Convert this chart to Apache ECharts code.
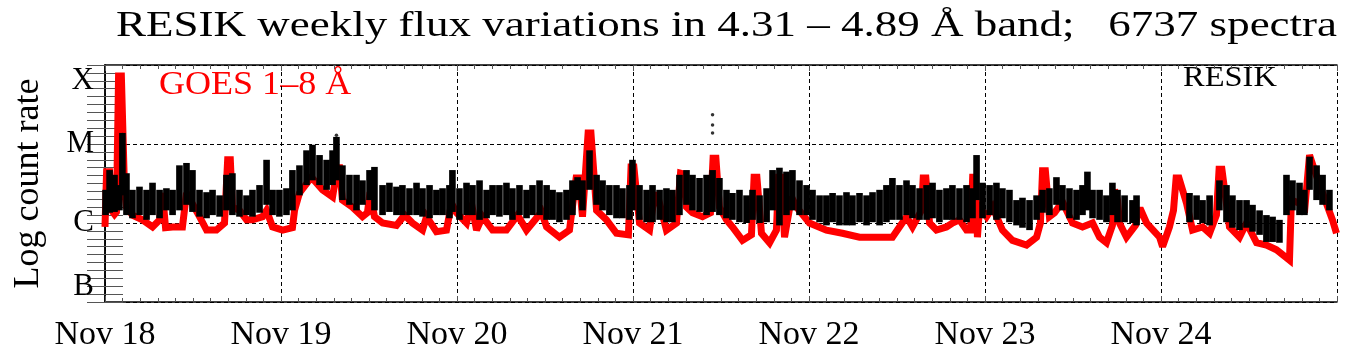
<!DOCTYPE html>
<html>
<head>
<meta charset="utf-8">
<script src="https://cdn.jsdelivr.net/npm/echarts@6/dist/echarts.min.js"></script>
<style>
html, body { margin: 0; padding: 0; background: #fff; }
#main { width: 1356px; height: 355px; }
</style>
</head>
<body>
<div id="main"></div>
<script>
// x: days since Nov 18 00:00 UT, y: log10 of flux (B=-7 ... X=-4)
var dayLabels = ['Nov 18', 'Nov 19', 'Nov 20', 'Nov 21', 'Nov 22', 'Nov 23', 'Nov 24'];
var levelValues = [-7, -6, -5, -4];
var levelLabels = ['B', 'C', 'M', 'X'];

// GOES 1-8 A light curve
var goesT = [0, 0.009, 0.026, 0.037, 0.054, 0.065, 0.077, 0.093, 0.111, 0.122, 0.156, 0.213, 0.270, 0.310, 0.327, 0.344, 0.384, 0.440, 0.463, 0.537,
	0.577, 0.633, 0.679, 0.697, 0.712, 0.724, 0.764, 0.804, 0.838, 0.895, 0.918, 0.952, 1.009, 1.065, 1.077, 1.105, 1.173, 1.236, 1.293, 1.320,
	1.333, 1.349, 1.406, 1.463, 1.491, 1.506, 1.517, 1.531, 1.577, 1.656, 1.702, 1.747, 1.804, 1.827, 1.883, 1.940, 1.969, 1.997, 2.054, 2.082,
	2.111, 2.145, 2.202, 2.281, 2.344, 2.395, 2.480, 2.509, 2.582, 2.639, 2.677, 2.693, 2.713, 2.745, 2.761, 2.793, 2.849, 2.906, 2.974, 2.989,
	3.005, 3.037, 3.094, 3.122, 3.139, 3.190, 3.247, 3.270, 3.287, 3.304, 3.338, 3.395, 3.440, 3.455, 3.471, 3.491, 3.531, 3.565, 3.622, 3.673,
	3.688, 3.704, 3.730, 3.776, 3.815, 3.827, 3.843, 3.861, 3.901, 3.929, 4.003, 4.099, 4.190, 4.287, 4.384, 4.474, 4.554, 4.588, 4.639, 4.649,
	4.664, 4.685, 4.724, 4.781, 4.815, 4.855, 4.895, 4.918, 4.930, 4.945, 4.957, 4.969, 5.009, 5.043, 5.099, 5.156, 5.236, 5.293, 5.315, 5.327,
	5.343, 5.366, 5.395, 5.440, 5.497, 5.554, 5.611, 5.651, 5.690, 5.724, 5.736, 5.753, 5.764, 5.804, 5.855, 5.870, 5.886, 5.918, 5.992, 6.009,
	6.048, 6.071, 6.086, 6.102, 6.145, 6.179, 6.236, 6.276, 6.315, 6.330, 6.346, 6.389, 6.446, 6.486, 6.543, 6.599, 6.656, 6.713, 6.730, 6.741,
	6.787, 6.815, 6.844, 6.872, 6.918, 6.974, 6.997];
var goesV = [-6.05, -5.35, -5.35, -5.84, -5.89, -5.86, -4.14, -4.14, -5.58, -5.80, -5.90, -5.96, -6.05, -5.96, -5.62, -6.06, -6.05, -6.05, -5.62, -5.92,
	-6.09, -6.09, -6.00, -5.20, -5.20, -5.80, -5.84, -5.96, -5.96, -5.92, -5.84, -6.05, -6.09, -6.06, -5.84, -5.62, -5.42, -5.58, -5.67, -5.30,
	-5.30, -5.71, -5.80, -5.92, -5.87, -5.61, -5.61, -5.92, -6.00, -6.03, -5.90, -6.00, -6.09, -5.92, -6.11, -6.09, -5.75, -5.87, -6.00, -5.75,
	-6.09, -5.92, -6.09, -6.09, -5.90, -6.09, -5.86, -6.05, -6.18, -6.09, -5.43, -5.43, -5.92, -4.86, -4.86, -5.84, -5.96, -6.13, -6.15, -5.29,
	-5.29, -6.00, -6.09, -5.65, -5.65, -6.09, -6.00, -5.37, -5.38, -5.80, -5.87, -5.92, -5.87, -5.18, -5.18, -5.80, -5.96, -6.05, -6.22, -6.15,
	-5.42, -5.42, -6.13, -6.25, -6.09, -5.42, -5.42, -6.18, -5.67, -5.80, -6.00, -6.09, -6.13, -6.18, -6.18, -6.18, -5.92, -6.05, -5.84, -5.43,
	-5.43, -6.00, -6.09, -6.05, -6.00, -5.96, -6.09, -6.09, -5.42, -5.42, -6.18, -5.80, -5.92, -5.80, -6.09, -6.22, -6.28, -6.18, -6.00, -5.34,
	-5.34, -5.92, -5.87, -5.73, -6.00, -6.05, -6.00, -6.18, -6.25, -6.03, -5.58, -5.71, -6.00, -6.18, -6.03, -5.84, -5.84, -6.00, -6.18, -6.30,
	-6.05, -5.84, -5.43, -5.43, -5.75, -6.09, -6.05, -6.13, -5.90, -5.32, -5.32, -6.05, -6.18, -6.00, -6.25, -6.28, -6.34, -6.44, -6.47, -5.71,
	-5.75, -5.87, -5.14, -5.33, -5.62, -5.96, -6.13];

// RESIK count rate: spread of the spectra in each short interval (low / high)
var resikT = [0.003, 0.026, 0.054, 0.082, 0.099, 0.122, 0.156, 0.196, 0.236, 0.270, 0.310, 0.349, 0.384, 0.423, 0.463, 0.497, 0.537, 0.577, 0.611, 0.651,
	0.690, 0.724, 0.764, 0.804, 0.838, 0.878, 0.918, 0.952, 0.991, 1.031, 1.065, 1.105, 1.145, 1.179, 1.219, 1.259, 1.293, 1.315, 1.349, 1.389,
	1.429, 1.463, 1.503, 1.531, 1.577, 1.616, 1.656, 1.690, 1.730, 1.770, 1.804, 1.844, 1.883, 1.918, 1.957, 1.974, 2.014, 2.054, 2.088, 2.128,
	2.168, 2.202, 2.241, 2.281, 2.315, 2.355, 2.395, 2.429, 2.469, 2.509, 2.543, 2.582, 2.622, 2.656, 2.685, 2.713, 2.753, 2.793, 2.827, 2.866,
	2.906, 2.940, 2.980, 2.997, 3.037, 3.077, 3.111, 3.151, 3.190, 3.224, 3.264, 3.304, 3.338, 3.378, 3.418, 3.452, 3.491, 3.531, 3.565, 3.605,
	3.645, 3.679, 3.719, 3.759, 3.793, 3.832, 3.872, 3.906, 3.946, 3.986, 4.020, 4.060, 4.099, 4.134, 4.173, 4.213, 4.247, 4.287, 4.327, 4.361,
	4.401, 4.440, 4.474, 4.514, 4.554, 4.588, 4.628, 4.668, 4.702, 4.741, 4.781, 4.815, 4.855, 4.895, 4.929, 4.952, 4.986, 5.026, 5.065, 5.099,
	5.139, 5.179, 5.213, 5.253, 5.293, 5.327, 5.366, 5.406, 5.440, 5.480, 5.520, 5.554, 5.582, 5.611, 5.651, 5.690, 5.724, 5.753, 5.793, 5.838,
	5.861, 6.162, 6.202, 6.236, 6.276, 6.332, 6.372, 6.406, 6.446, 6.486, 6.520, 6.560, 6.599, 6.634, 6.673, 6.713, 6.747, 6.787, 6.815, 6.844,
	6.884, 6.918, 6.957];
var resikLo = [-5.90, -5.87, -5.86, -5.84, -5.65, -5.90, -5.94, -5.90, -5.96, -5.90, -5.94, -5.84, -5.90, -5.84, -5.77, -5.86, -5.92, -5.94, -5.90, -5.92,
	-5.84, -5.90, -5.92, -5.90, -5.92, -5.87, -5.77, -5.90, -5.92, -5.90, -5.84, -5.65, -5.52, -5.46, -5.52, -5.58, -5.52, -5.46, -5.71, -5.77,
	-5.84, -5.77, -5.71, -5.84, -5.90, -5.86, -5.90, -5.90, -5.90, -5.90, -5.92, -5.94, -5.90, -5.90, -5.94, -5.86, -5.96, -5.90, -5.90, -5.96,
	-5.94, -5.90, -5.92, -5.90, -5.96, -5.90, -5.94, -5.90, -5.90, -5.96, -5.96, -5.99, -5.96, -5.90, -5.71, -5.84, -5.58, -5.77, -5.84, -5.90,
	-5.94, -5.94, -5.96, -5.84, -5.96, -5.99, -5.99, -5.96, -5.99, -5.99, -5.90, -5.77, -5.84, -5.86, -5.90, -5.86, -5.90, -5.94, -5.96, -5.99,
	-6.00, -5.96, -6.00, -5.99, -5.84, -6.03, -5.90, -5.84, -5.90, -5.90, -5.96, -5.99, -6.03, -5.99, -6.03, -6.03, -6.03, -5.99, -6.03, -5.99,
	-6.03, -5.99, -5.96, -5.96, -5.90, -5.94, -5.96, -5.96, -5.94, -5.99, -5.96, -5.96, -5.96, -5.99, -5.94, -5.71, -5.94, -5.90, -5.96, -5.94,
	-5.99, -6.03, -6.06, -6.09, -5.96, -5.87, -5.90, -5.77, -5.84, -5.94, -5.96, -5.90, -5.84, -5.94, -5.96, -5.99, -5.90, -5.99, -5.99, -6.00,
	-6.03, -5.99, -5.96, -6.00, -6.03, -5.84, -5.99, -6.06, -6.09, -6.06, -6.11, -6.15, -6.24, -6.24, -6.25, -5.90, -5.84, -5.90, -5.90, -5.58,
	-5.71, -5.77, -5.84];
var resikHi = [-5.58, -5.33, -5.39, -5.52, -4.86, -5.37, -5.58, -5.54, -5.58, -5.49, -5.58, -5.56, -5.58, -5.27, -5.24, -5.33, -5.58, -5.61, -5.58, -5.65,
	-5.39, -5.37, -5.58, -5.65, -5.58, -5.52, -5.20, -5.58, -5.58, -5.56, -5.33, -5.27, -5.08, -5.01, -5.14, -5.20, -5.08, -4.91, -5.27, -5.39,
	-5.39, -5.46, -5.33, -5.29, -5.52, -5.49, -5.54, -5.52, -5.56, -5.49, -5.56, -5.52, -5.58, -5.56, -5.52, -5.33, -5.56, -5.49, -5.52, -5.46,
	-5.58, -5.52, -5.52, -5.49, -5.56, -5.52, -5.58, -5.52, -5.46, -5.52, -5.58, -5.61, -5.58, -5.46, -5.42, -5.46, -5.08, -5.39, -5.46, -5.52,
	-5.52, -5.56, -5.52, -5.20, -5.52, -5.58, -5.52, -5.58, -5.56, -5.58, -5.39, -5.33, -5.39, -5.43, -5.39, -5.33, -5.43, -5.58, -5.62, -5.58,
	-5.65, -5.58, -5.65, -5.56, -5.33, -5.30, -5.35, -5.33, -5.46, -5.52, -5.58, -5.65, -5.65, -5.62, -5.65, -5.61, -5.65, -5.62, -5.65, -5.61,
	-5.58, -5.52, -5.43, -5.52, -5.46, -5.52, -5.56, -5.52, -5.49, -5.58, -5.56, -5.52, -5.56, -5.52, -5.56, -5.14, -5.49, -5.52, -5.49, -5.56,
	-5.58, -5.71, -5.68, -5.71, -5.65, -5.58, -5.56, -5.42, -5.52, -5.56, -5.58, -5.52, -5.35, -5.58, -5.58, -5.65, -5.49, -5.58, -5.65, -5.71,
	-5.65, -5.62, -5.65, -5.71, -5.65, -5.46, -5.52, -5.65, -5.71, -5.71, -5.77, -5.84, -5.90, -5.92, -5.96, -5.39, -5.46, -5.49, -5.58, -5.16,
	-5.27, -5.39, -5.58];
// isolated RESIK points above M level
var outT = [3.452, 3.452, 3.452, 0.099, 1.315];
var outV = [-4.63, -4.76, -4.86, -4.88, -4.89];

var serif = "'Liberation Serif', 'DejaVu Serif', serif";

function buildPairs(xs, ys){
	var out = [];
	for (var i = 0; i < xs.length; i++) {
		out.push([xs[i], ys[i]]);
	}
	return out;
}

function buildBands(){
	var out = [];
	for (var i = 0; i < resikT.length; i++) {
		out.push([resikT[i], resikLo[i], resikHi[i]]);
	}
	return out;
}

function levelName(v){
	for (var i = 0; i < levelValues.length; i++) {
		if (Math.abs(levelValues[i] - v) < 1e-6) return levelLabels[i];
	}
	return '';
}

function initChart(){
	var myChart = echarts.init(document.getElementById('main'));
	var tickStyle = { color: '#555', width: 1 };
	var frame = { lineStyle: { color: '#000', width: 1.5 } };
	var dashed = { show: true, lineStyle: { color: '#000', width: 1, type: [4, 3] } };

	var option = {
		animation: false,
		backgroundColor: '#fff',
		grid: { left: 105, right: 19, top: 65, bottom: 53 },
		graphic: [
			{
				type: 'text', left: 116, top: 9, scaleX: 1.25,
				style: { text: 'RESIK weekly flux variations in 4.31 \u2013 4.89 \u00C5 band;   6737 spectra', font: '36px ' + serif, fill: '#000' }
			},
			{
				type: 'text', left: 159, top: 68, scaleX: 1.06,
				style: { text: 'GOES 1\u20138 \u00C5', font: '34px ' + serif, fill: '#ff0000' }
			},
			{
				type: 'text', left: 1183, top: 64, scaleX: 1.12,
				style: { text: 'RESIK', font: '29px ' + serif, fill: '#000' }
			}
		],
		xAxis: [{
			type: 'value', min: 0, max: 7, interval: 1,
			axisLine: frame,
			axisTick: { inside: true, length: 6, lineStyle: tickStyle },
			minorTick: { show: true, splitNumber: 10, length: 4, lineStyle: tickStyle },
			splitLine: dashed,
			axisLabel: {
				margin: 16, fontSize: 34, fontFamily: serif, color: '#000',
				formatter: function(v){
					var i = Math.round(v);
					return i < dayLabels.length ? dayLabels[i] : '';
				}
			}
		}, {
			type: 'value', min: 0, max: 7, interval: 1, position: 'top',
			axisLine: frame,
			axisTick: { inside: true, length: 6, lineStyle: tickStyle },
			minorTick: { show: true, splitNumber: 10, length: 4, lineStyle: tickStyle },
			splitLine: { show: false },
			axisLabel: { show: false }
		}],
		yAxis: [{
			type: 'value', min: -7, max: -4, interval: 1,
			name: 'Log count rate', nameLocation: 'middle', nameRotate: 90, nameGap: 58,
			nameTextStyle: { fontSize: 36, fontFamily: serif, color: '#000' },
			axisLine: frame,
			axisTick: { inside: true, length: 18, lineStyle: tickStyle },
			minorTick: { show: true, splitNumber: 10, length: 18, lineStyle: tickStyle },
			splitLine: dashed,
			axisLabel: {
				margin: 11, fontSize: 31, fontFamily: serif, color: '#000',
				verticalAlignMinLabel: 'bottom', verticalAlignMaxLabel: 'top',
				formatter: levelName
			}
		}, {
			type: 'value', min: -7, max: -4, interval: 1, position: 'right',
			axisLine: frame,
			axisTick: { inside: true, length: 18, lineStyle: tickStyle },
			minorTick: { show: true, splitNumber: 10, length: 18, lineStyle: tickStyle },
			splitLine: { show: false },
			axisLabel: { show: false }
		}],
		series: [{
			name: 'GOES',
			type: 'line',
			data: buildPairs(goesT, goesV),
			showSymbol: false,
			lineStyle: { color: '#ff0000', width: 7, join: 'miter', miterLimit: 3 },
			z: 2
		}, {
			name: 'RESIK',
			type: 'custom',
			data: buildBands(),
			renderItem: function(params, api){
				var hi = api.coord([api.value(0), api.value(2)]);
				var lo = api.coord([api.value(0), api.value(1)]);
				return {
					type: 'rect',
					shape: { x: hi[0] - 3.3, y: hi[1], width: 6.6, height: lo[1] - hi[1] },
					style: { fill: '#000' }
				};
			},
			encode: { x: 0, y: [1, 2] },
			z: 3
		}, {
			name: 'RESIK out',
			type: 'scatter',
			data: buildPairs(outT, outV),
			symbolSize: 3.5,
			itemStyle: { color: '#000' },
			z: 3
		}]
	};
	myChart.setOption(option);
}

initChart();
</script>
</body>
</html>
